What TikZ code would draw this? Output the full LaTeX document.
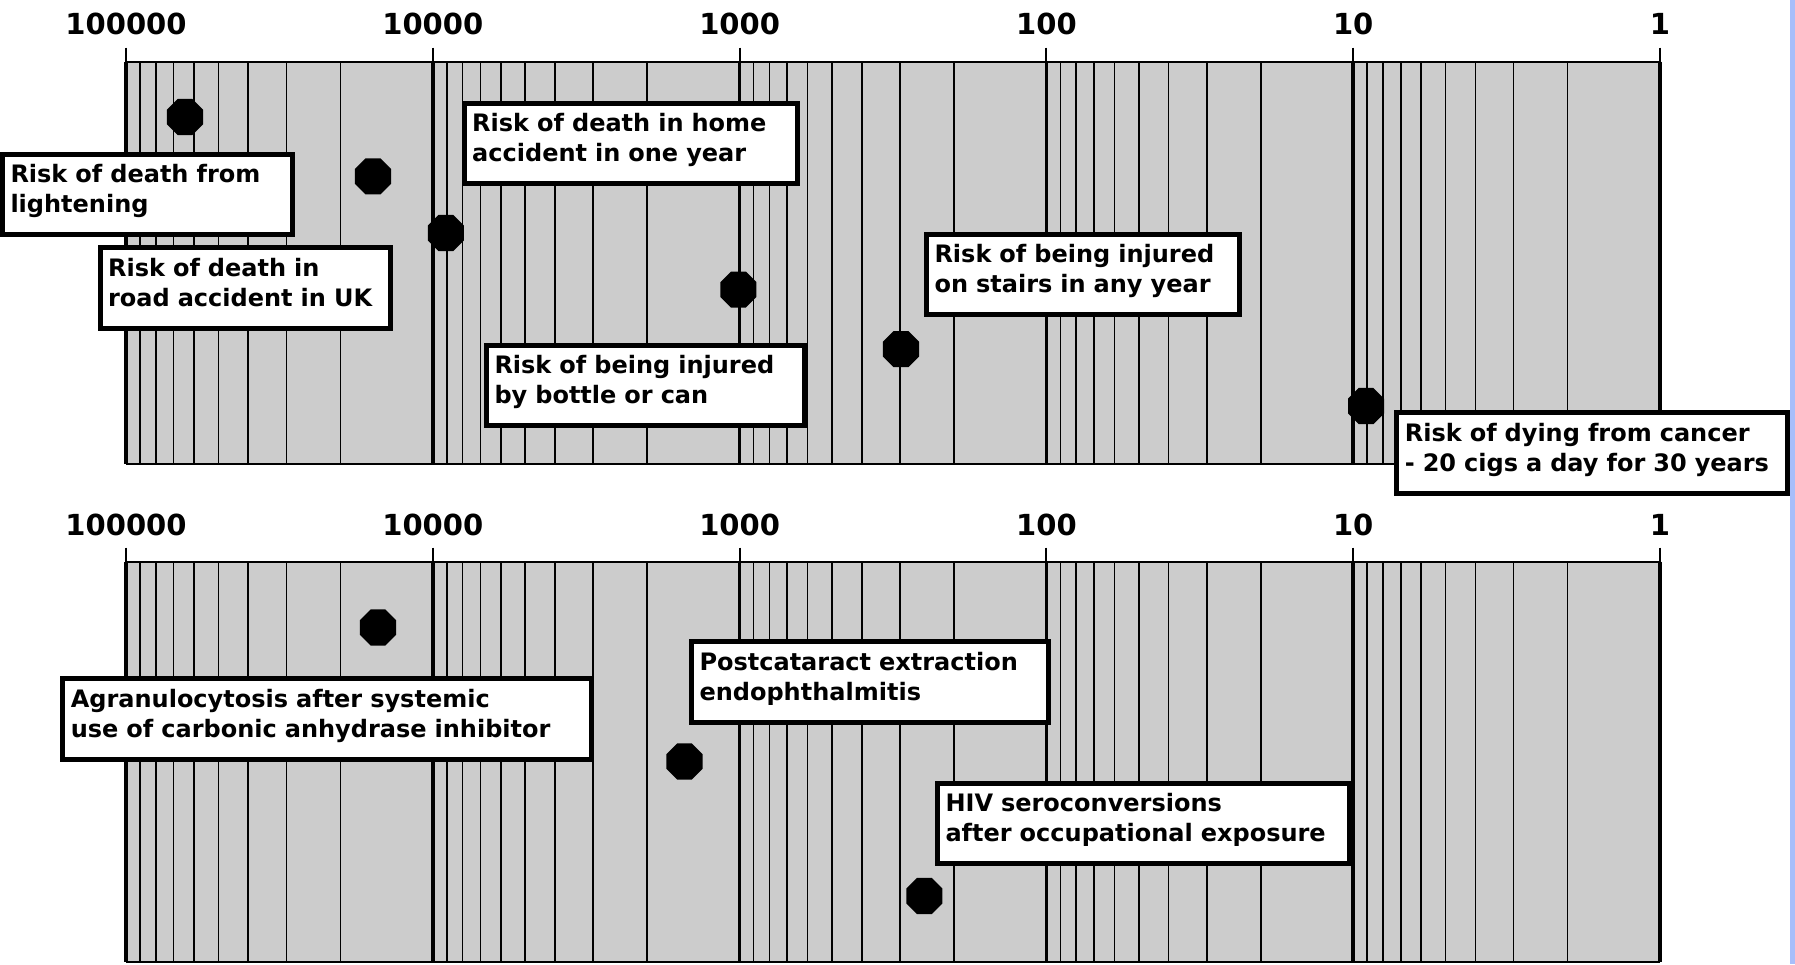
\documentclass[tikz,border=0pt]{standalone}
\usepackage{fontspec}
\newfontfamily\chartfont{DejaVu Sans}
\usetikzlibrary{shapes.geometric}
\definecolor{panelgray}{RGB}{204,204,204}
\definecolor{edgeblue}{RGB}{168,190,250}

\begin{document}
\begin{tikzpicture}[x=1pt,y=1pt,yscale=-1,xscale=1,
  major/.style={line width=3.5pt},
  minor/.style={line width=1.6pt},
  tickline/.style={line width=2pt},
  frameline/.style={line width=1.7pt},
  riskbox/.style={draw,fill=white,line width=5pt,anchor=north west,align=left,
    inner xsep=8pt,inner ysep=0pt,text height=28.5pt,text depth=52pt,
    font=\chartfont\bfseries\fontsize{24}{30}\selectfont},
  riskdot/.style={fill=black,regular polygon,regular polygon sides=8,minimum size=39pt,inner sep=0pt},
  scalelabel/.style={anchor=base,inner sep=0pt,font=\chartfont\bfseries\fontsize{29}{30}\selectfont}]
\useasboundingbox (0,0) rectangle (1795,964);

% blue edge
\fill[edgeblue] (1790,0) rectangle (1795,964);

% panels: upper at 61.7--464, lower at 561.7--962
\foreach \ytop/\ybot/\ylab/\pname in {61.7/464/34.5/top,561.7/962/535/bot}{
  \fill[panelgray] (126,\ytop) rectangle (1660,\ybot);
  % minor lines
  \foreach \k in {0,...,4}
    \foreach \m in {2,...,9}
      \draw[minor] ({126+(\k+1-log10(\m))*306.8},\ytop) -- ({126+(\k+1-log10(\m))*306.8},\ybot);
  \draw[frameline] (126,\ytop) -- (1660,\ytop);
  \draw[frameline] (126,\ybot) -- (1660,\ybot);
  % decade lines, ticks and labels
  \foreach \k/\lab in {0/100000,1/10000,2/1000,3/100,4/10,5/1}{
    \draw[tickline] ({126+\k*306.8},\ytop-14) -- ({126+\k*306.8},\ytop);
    \draw[major] ({126+\k*306.8},\ytop) -- ({126+\k*306.8},\ybot);
    \node[scalelabel] (\pname lab\k) at ({126+\k*306.8},\ylab) {\lab};
  }
}

% Dots upper
\node[riskdot] (dotlightning) at (185,117) {};
\node[riskdot] (dotroad) at (373,176.3) {};
\node[riskdot] (dothome) at (445.8,233) {};
\node[riskdot] (dotbottle) at (738.4,289.6) {};
\node[riskdot] (dotstairs) at (901,349.2) {};
\node[riskdot] (dotcancer) at (1366,406) {};
% Dots lower
\node[riskdot] (dotagran) at (378,627.5) {};
\node[riskdot] (dotcataract) at (684.5,761.5) {};
\node[riskdot] (dothiv) at (924.3,896) {};

% Text Node
\node[riskbox,text width=273.7pt] (lightning) at (0,151.7) {Risk of death from\\lightening};
% Text Node
\node[riskbox,text width=274.4pt] (road) at (97.6,245) {Risk of death in\\road accident in UK};
% Text Node
\node[riskbox,text width=317.3pt] (home) at (461.7,100.7) {Risk of death in home\\accident in one year};
% Text Node
\node[riskbox,text width=302pt] (bottle) at (484,342.5) {Risk of being injured\\by bottle or can};
% Text Node
\node[riskbox,text width=297pt] (stairs) at (924,231.7) {Risk of being injured\\on stairs in any year};
% Text Node
\node[riskbox,text width=374.7pt] (cancer) at (1394.3,410) {Risk of dying from cancer\\- 20 cigs a day for 30 years};
% Text Node
\node[riskbox,text width=512.7pt] (agran) at (60.3,676) {Agranulocytosis after systemic\\use of carbonic anhydrase inhibitor};
% Text Node
\node[riskbox,text width=341pt] (cataract) at (689,639.3) {Postcataract extraction\\endophthalmitis};
% Text Node
\node[riskbox,text width=396pt] (hiv) at (935,780.7) {HIV seroconversions\\after occupational exposure};

\end{tikzpicture}
\end{document}
